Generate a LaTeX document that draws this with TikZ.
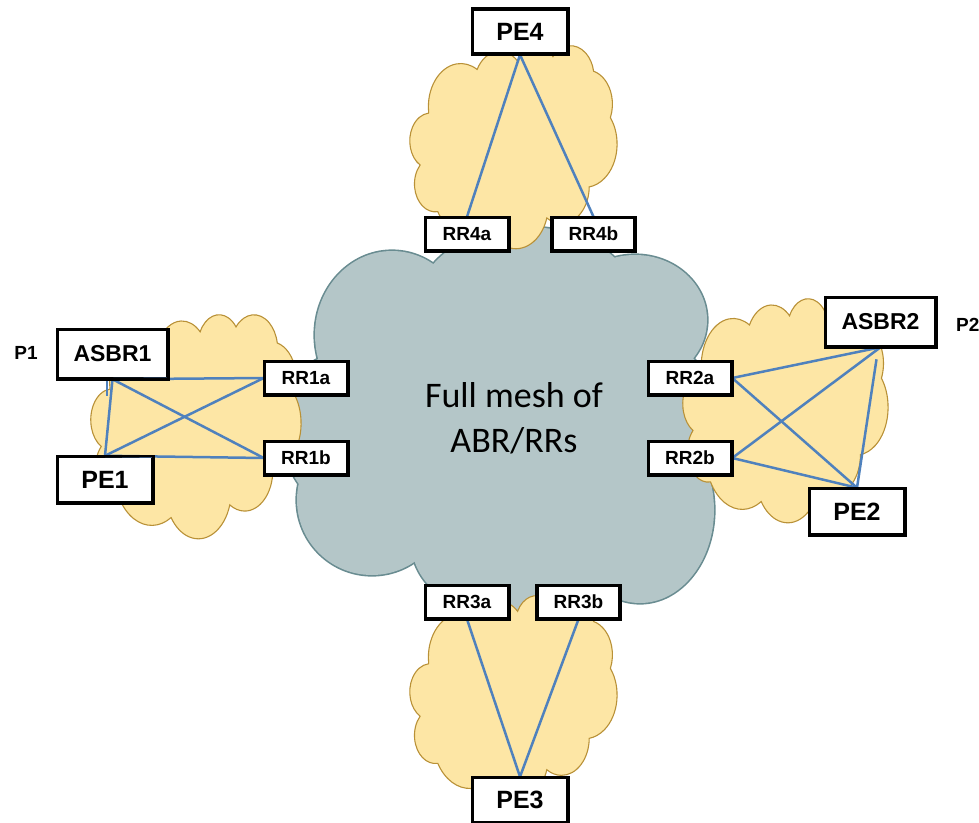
\documentclass[tikz,border=0pt]{standalone}
\usepackage{fontspec}
\setmainfont{Liberation Sans}
\newfontfamily\calib{Carlito}
\definecolor{ylw}{RGB}{253,230,165}
\definecolor{ylwline}{RGB}{185,145,55}
\definecolor{gry}{RGB}{180,198,200}
\definecolor{gryline}{RGB}{105,140,145}
\definecolor{lnk}{RGB}{79,129,189}
\tikzset{
  ycloud/.style={draw=ylwline, fill=ylw, line width=1.1pt},
  gstroke/.style={draw=gryline, line width=3.2pt},
  gfill/.style={fill=gry},
  bigbox/.style={draw, line width=2.5pt, fill=white, font=\bfseries\fontsize{25}{30}\selectfont, minimum width=94pt, minimum height=44pt, inner sep=0pt},
  asbrbox/.style={bigbox, font=\bfseries\fontsize{23}{28}\selectfont, minimum width=109pt, minimum height=48pt},
  rrbox/.style={draw, line width=2.5pt, fill=white, font=\bfseries\fontsize{19}{23}\selectfont, minimum width=82pt, minimum height=32pt, inner sep=0pt},
  plabel/.style={font=\bfseries\fontsize{19}{22}\selectfont, inner sep=0pt},
  link/.style={draw=lnk, line width=2.5pt},
  meshtext/.style={font=\calib\fontsize{36}{45}\selectfont, inner sep=0pt}
}
% PowerPoint-like cloud in a box: x0, y0, width, height, style
\newcommand\pptcloud[5]{%
  \pgfmathsetmacro\cldsx{#3/432}%
  \pgfmathsetmacro\cldsy{#4/432}%
  \begin{scope}[shift={(#1,#2)}, xscale=\cldsx, yscale=\cldsy]
    \path[#5] (39.00,143.70)
      arc[start angle=-187.74, end angle=-59.64, x radius=67.53, y radius=91.90]
      arc[start angle=-152.02, end angle=-45.45, x radius=53.33, y radius=72.67]
      arc[start angle=-153.48, end angle=-37.32, x radius=43.65, y radius=59.45]
      arc[start angle=-139.72, end angle=-10.22, x radius=48.57, y radius=65.95]
      arc[start angle=-74.77, end angle=23.22, x radius=53.33, y radius=72.73]
      arc[start angle=-37.51, end angle=81.86, x radius=67.75, y radius=92.20]
      arc[start angle=0.46, end angle=122.0, x radius=57.85, y radius=78.67]
      arc[start angle=16.84, end angle=146.24, x radius=67.52, y radius=92.15]
      arc[start angle=58.98, end angle=150.19, x radius=77.20, y radius=105.43]
      arc[start angle=-276.69, end angle=-136.88, x radius=43.60, y radius=59.18]
      arc[start angle=-239.76, end angle=-95.87, x radius=43.45, y radius=59.45]
      -- cycle;
  \end{scope}%
}
\newcommand\globes{392/335/77/84, 527/305/110/78, 635/320/72/65, 655/420/60/80, 640/510/74/93, 520/545/108/75, 372/500/75/75, 335/430/52/75}
\begin{document}
\begin{tikzpicture}[x=1pt,y=-1pt]
\useasboundingbox (0,0) rectangle (979,822);
% big grey cloud: union of lobes (outline first, fill on top)
\foreach \cx/\cy/\rx/\ry in \globes {
  \path[gstroke] (\cx,\cy) ellipse [x radius=\rx, y radius=\ry];
}
\foreach \cx/\cy/\rx/\ry in \globes {
  \path[gfill] (\cx,\cy) ellipse [x radius=\rx, y radius=\ry];
}
\path[gfill] (330,300) rectangle (690,560);
% yellow clouds
\pptcloud{91}{314}{210}{224}{ycloud}
\pptcloud{410}{45}{207}{203}{ycloud}
\pptcloud{683}{298}{205}{224}{ycloud}
\pptcloud{410}{595}{207}{205}{ycloud}
% central text
\node[meshtext, anchor=base] (mesh1) at (514,407) {Full mesh of};
\node[meshtext, anchor=base] (mesh2) at (514,452) {ABR/RRs};
% boxes
\node[bigbox] (pe4) at (520,31.5) {PE4};
\node[rrbox] (rr4a) at (467,234) {RR4a};
\node[rrbox] (rr4b) at (593.5,234) {RR4b};
\node[asbrbox] (asbr1) at (112.5,354) {ASBR1};
\node[rrbox] (rr1a) at (306,378) {RR1a};
\node[rrbox] (rr1b) at (306,458) {RR1b};
\node[bigbox, minimum height=45pt] (pe1) at (105,479.5) {PE1};
\node[rrbox] (rr2a) at (690,378) {RR2a};
\node[rrbox] (rr2b) at (690,458) {RR2b};
\node[asbrbox] (asbr2) at (880.5,322) {ASBR2};
\node[bigbox, minimum height=45pt] (pe2) at (857,511.5) {PE2};
\node[rrbox] (rr3a) at (467,602) {RR3a};
\node[rrbox] (rr3b) at (578.5,602) {RR3b};
\node[bigbox] (pe3) at (520,800) {PE3};
\node[plabel] (p1) at (26,353) {P1};
\node[plabel, anchor=west] (p2) at (956,325) {P2};
% links
\draw[link] (pe4.south) -- (rr4a.north);
\draw[link] (pe4.south) -- (rr4b.north);
\draw[link] (rr3a.south) -- (pe3.north);
\draw[link] (rr3b.south) -- (pe3.north);
\draw[link] (asbr1.south) -- (rr1a.west);
\draw[link] (asbr1.south) -- (rr1b.west);
\draw[link] (asbr1.south) -- (pe1.north);
\draw[link] (pe1.north) -- (rr1a.west);
\draw[link] (pe1.north) -- (rr1b.west);
\coordinate (stub) at (107,396);
\draw[link] ([xshift=-5.5pt]asbr1.south) -- (stub);
\draw[link] (rr2a.east) -- (asbr2.south);
\draw[link] (rr2a.east) -- (pe2.north);
\draw[link] (rr2b.east) -- (asbr2.south);
\draw[link] (rr2b.east) -- (pe2.north);
\draw[link] ([shift={(-4,12)}]asbr2.south) -- (pe2.north);
% redraw box frames over the links
\foreach \n in {pe4,rr4a,rr4b,asbr1,rr1a,rr1b,pe1,rr2a,rr2b,asbr2,pe2,rr3a,rr3b,pe3}{
  \draw[line width=2.5pt] (\n.north west) rectangle (\n.south east);
}
\end{tikzpicture}
\end{document}
